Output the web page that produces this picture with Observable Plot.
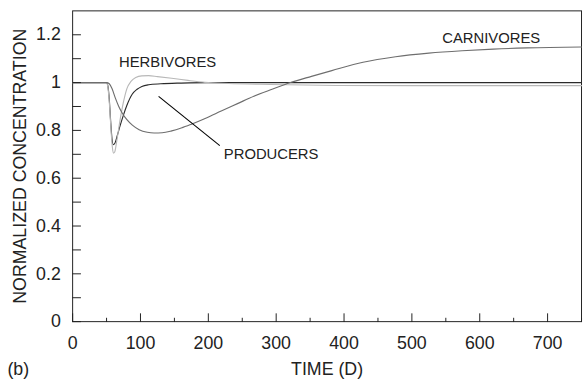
<!DOCTYPE html>
<html>
<head>
<meta charset="utf-8">
<script src="https://cdn.jsdelivr.net/npm/d3@7"></script>
<script src="https://cdn.jsdelivr.net/npm/@observablehq/plot@0.6"></script>
<style>
  html, body { margin: 0; padding: 0; background: #fff; overflow: hidden; width: 583px; height: 387px; }
  #chart { width: 583px; height: 387px; overflow: hidden; }
  svg { font-family: "Liberation Sans", Arial, sans-serif; }
</style>
</head>
<body>
<div id="chart"></div>
<script>
// Time (days) and normalized concentrations
const producers = [
  [0,1],[50,1],[52,0.985],[54,0.93],[56,0.84],[58,0.765],[60,0.74],[62,0.745],[66,0.78],
  [70,0.82],[75,0.865],[80,0.905],[88,0.952],[95,0.972],[102,0.984],[112,0.991],
  [130,0.995],[160,0.998],[200,1],[750,1]
];
const herbivores = [
  [0,1],[50,1],[52,0.98],[54,0.92],[56,0.83],[58,0.745],[60,0.705],[62,0.71],[65,0.755],
  [70,0.845],[75,0.92],[80,0.975],[86,1.005],[93,1.021],[102,1.028],[112,1.029],[125,1.025],
  [146,1.018],[170,1.009],[195,1.001],[230,0.996],[292,0.992],[389,0.988],[500,0.987],[750,0.987]
];
const carnivores = [
  [0,1],[50,1],[54,0.995],[58,0.975],[63,0.935],[68,0.9],[73,0.873],[80,0.845],[88,0.822],
  [98,0.803],[110,0.792],[120,0.789],[132,0.79],[146,0.798],[160,0.81],[175,0.826],
  [197,0.852],[219,0.881],[243,0.912],[267,0.943],[295,0.973],[321,1.0],[352,1.026],
  [382,1.05],[428,1.085],[476,1.108],[525,1.123],[574,1.133],[620,1.14],[670,1.145],[750,1.149]
];
const seriesNames = ["PRODUCERS", "HERBIVORES", "CARNIVORES"];
const seriesColors = ["#2b2b2b", "#b8b8b8", "#6e6e6e"];

const xMajorTicks = [0, 100, 200, 300, 400, 500, 600, 700];
const xMinorTicks = [50, 150, 250, 350, 450, 550, 650, 750];
const yMajorTicks = [0, 0.2, 0.4, 0.6, 0.8, 1, 1.2];
const yAllTicks = [0, 0.1, 0.2, 0.3, 0.4, 0.5, 0.6, 0.7, 0.8, 0.9, 1, 1.1, 1.2];

const labels = [
  {text: "HERBIVORES", t: 68.4, v: 1.083},
  {text: "CARNIVORES", t: 544.7, v: 1.186},
  {text: "PRODUCERS", t: 222.8, v: 0.702}
];
const leader = [{t1: 126.7, v1: 0.9425, t2: 216.9, v2: 0.736}];

const rows = [];
[producers, herbivores, carnivores].forEach((arr, i) => {
  arr.forEach(([t, v]) => rows.push({series: seriesNames[i], t, v}));
});

const ink = "#222";
// straight tick stroke drawn from the anchor point
const tickShape = {draw(context, l) { context.moveTo(0, 0); context.lineTo(0, -l); }};

const chart = Plot.plot({
  width: 590,
  height: 387,
  marginLeft: 73,
  marginRight: 2,
  marginTop: 10.5,
  marginBottom: 62,
  style: {fontFamily: "'Liberation Sans', Arial, sans-serif", background: "#fff", color: ink},
  x: {domain: [0, 750]},
  y: {domain: [0, 1.3]},
  color: {domain: seriesNames, range: seriesColors},
  marks: [
    Plot.frame({stroke: ink, strokeWidth: 1}),
    Plot.line(rows, {x: "t", y: "v", z: "series", stroke: "series", strokeWidth: 1.15, curve: "monotone-x"}),
    Plot.vector(xMajorTicks, {x: d => d, y: () => 0, length: 8, rotate: 0, anchor: "start", shape: tickShape, stroke: ink, strokeWidth: 1}),
    Plot.vector(xMinorTicks, {x: d => d, y: () => 0, length: 3.5, rotate: 0, anchor: "start", shape: tickShape, stroke: ink, strokeWidth: 1}),
    Plot.vector(yAllTicks, {x: () => 0, y: d => d, length: 8, rotate: 90, anchor: "start", shape: tickShape, stroke: ink, strokeWidth: 1}),
    Plot.axisX(xMajorTicks, {tickSize: 0, tickPadding: 15, fontSize: 18, fill: ink, label: null, tickFormat: d => String(d)}),
    Plot.axisY(yMajorTicks, {tickSize: 0, tickPadding: 12, fontSize: 18, fill: ink, label: null, tickFormat: d => String(d)}),
    Plot.text(labels, {x: "t", y: "v", text: "text", textAnchor: "start", fontSize: 15, fill: ink}),
    Plot.link(leader, {x1: "t1", y1: "v1", x2: "t2", y2: "v2", stroke: "#000", strokeWidth: 1.1}),
    Plot.text(["TIME (D)"], {frameAnchor: "bottom", dy: 54, textAnchor: "middle", fontSize: 18, fill: ink}),
    Plot.text(["(b)"], {frameAnchor: "bottom-left", dx: -66, dy: 54, textAnchor: "start", fontSize: 18, fill: ink}),
    Plot.text(["NORMALIZED CONCENTRATION"], {frameAnchor: "left", dx: -53, rotate: -90, textAnchor: "middle", fontSize: 18, fill: ink})
  ]
});
document.getElementById("chart").appendChild(chart);
</script>
</body>
</html>
